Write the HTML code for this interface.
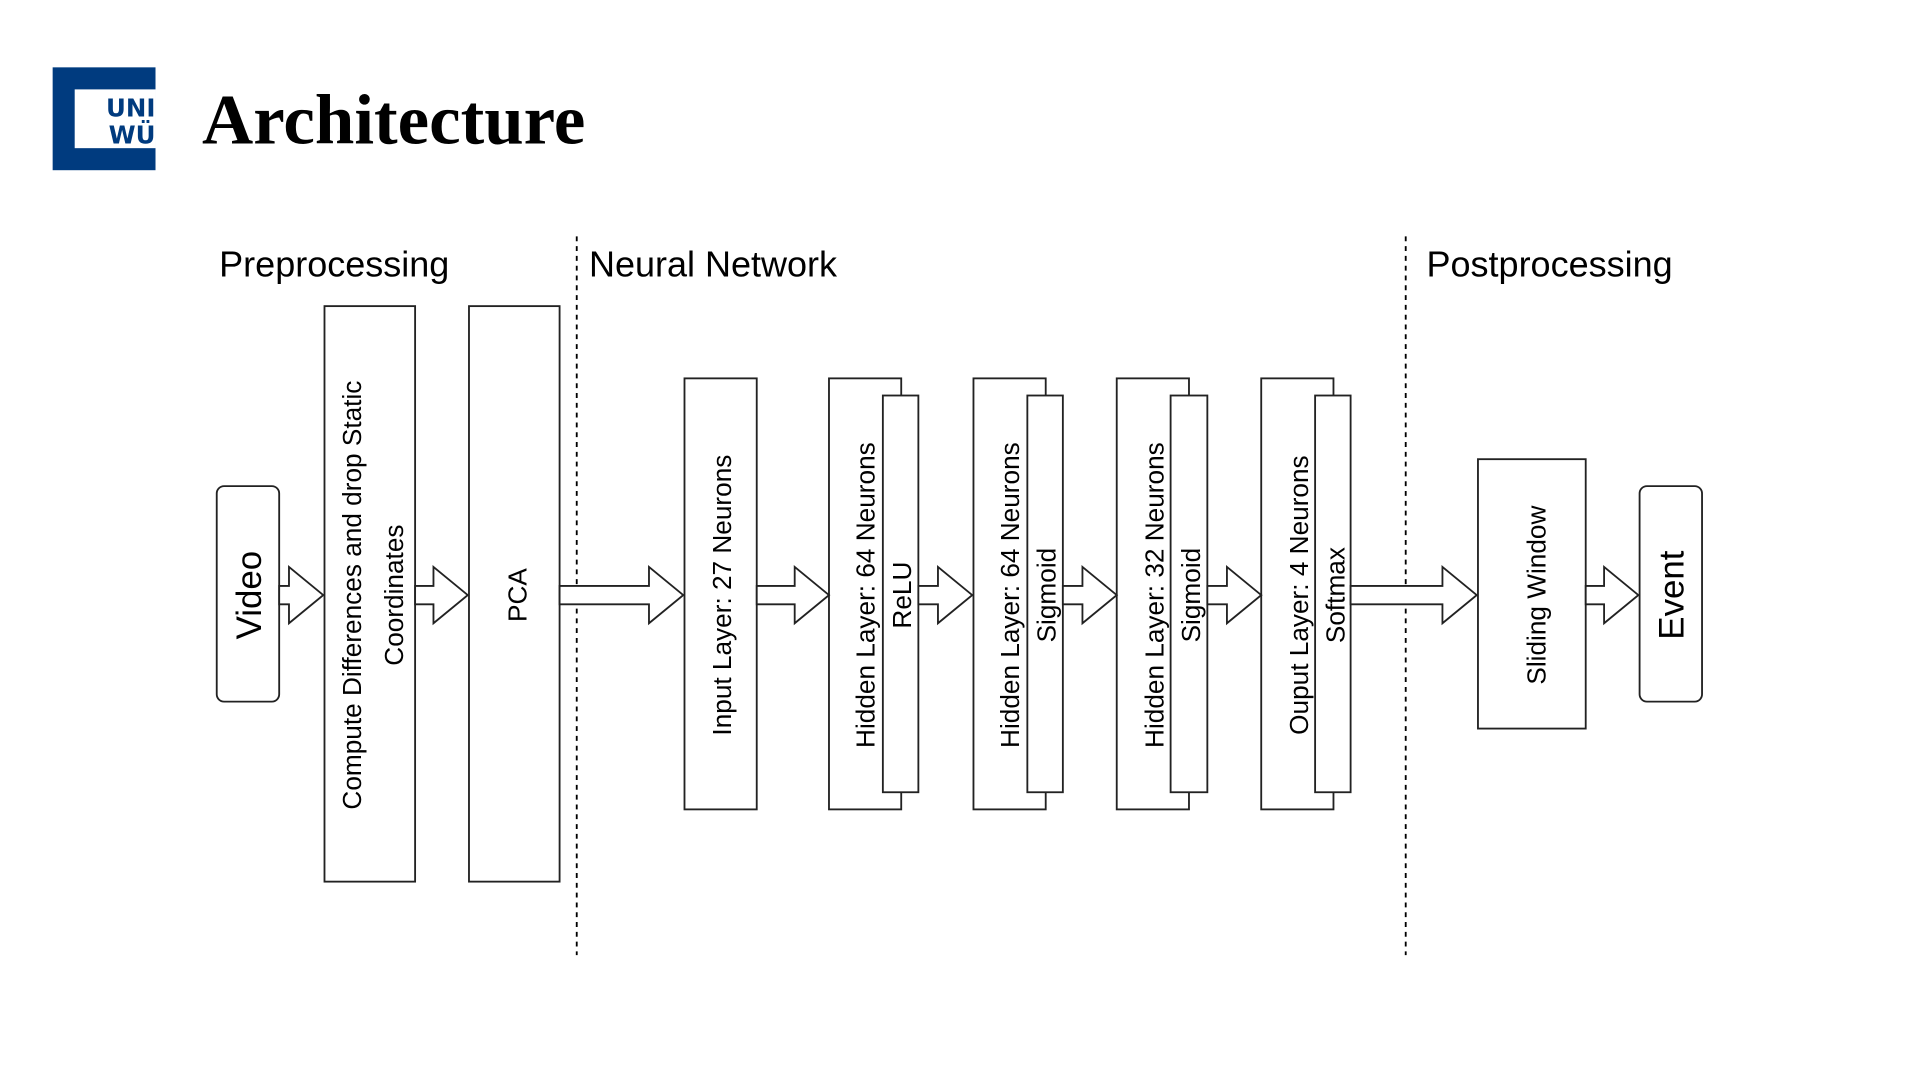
<!DOCTYPE html>
<html><head><meta charset="utf-8"><style>html,body{margin:0;padding:0;background:#fff;}svg{display:block}</style></head>
<body>
<svg width="1920" height="1080" viewBox="0 0 1568 882" xmlns="http://www.w3.org/2000/svg">
<rect x="0" y="0" width="1568" height="882" fill="#fff"/>
<!-- logo -->
<rect x="43" y="55" width="84" height="84" fill="#003b7f"/>
<rect x="61" y="73" width="66" height="48" fill="#fff"/>
<text x="127" y="95" text-anchor="end" font-family="DejaVu Sans, Liberation Sans, sans-serif" font-weight="bold" font-size="20" fill="#003b7f">UNI</text>
<text x="127" y="117" text-anchor="end" font-family="DejaVu Sans, Liberation Sans, sans-serif" font-weight="bold" font-size="20" fill="#003b7f">WÜ</text>
<text x="165" y="117" font-family="Liberation Serif, serif" font-weight="bold" font-size="58" textLength="313" lengthAdjust="spacingAndGlyphs" fill="#000">Architecture</text>
<g font-family="Liberation Sans, Arial, sans-serif" fill="#000">
<text x="179" y="226" font-size="29.4">Preprocessing</text>
<text x="481" y="226" font-size="29.4">Neural Network</text>
<text x="1165" y="226" font-size="29.4">Postprocessing</text>
</g>
<g stroke="#000" stroke-width="1.5" stroke-dasharray="4,4">
<line x1="471" y1="193" x2="471" y2="780"/>
<line x1="1148" y1="193" x2="1148" y2="780"/>
</g>
<g fill="#fff" stroke="#222" stroke-width="1.5">
<rect x="177" y="397" width="51" height="176" rx="6"/>
<rect x="265" y="250" width="74" height="470"/>
<rect x="383" y="250" width="74" height="470"/>
<rect x="559" y="309" width="59" height="352"/>
<rect x="677" y="309" width="59" height="352"/><rect x="721" y="323" width="29" height="324"/>
<rect x="795" y="309" width="59" height="352"/><rect x="839" y="323" width="29" height="324"/>
<rect x="912" y="309" width="59" height="352"/><rect x="956" y="323" width="30" height="324"/>
<rect x="1030" y="309" width="59" height="352"/><rect x="1074" y="323" width="29" height="324"/>
<rect x="1207" y="375" width="88" height="220"/>
<rect x="1339" y="397" width="51" height="176" rx="6"/>
<!-- arrows -->
<path d="M228 478.5 H236 V463 L264 486 L236 509 V493.5 H228 Z"/>
<path d="M339 478.5 H354 V463 L382 486 L354 509 V493.5 H339 Z"/>
<path d="M457 478.5 H530 V463 L558 486 L530 509 V493.5 H457 Z"/>
<path d="M618 478.5 H649 V463 L677 486 L649 509 V493.5 H618 Z"/>
<path d="M750 478.5 H766 V463 L794 486 L766 509 V493.5 H750 Z"/>
<path d="M868 478.5 H884 V463 L912 486 L884 509 V493.5 H868 Z"/>
<path d="M986 478.5 H1002 V463 L1030 486 L1002 509 V493.5 H986 Z"/>
<path d="M1103 478.5 H1178 V463 L1206 486 L1178 509 V493.5 H1103 Z"/>
<path d="M1295 478.5 H1310 V463 L1338 486 L1310 509 V493.5 H1295 Z"/>
</g>
<g font-family="Liberation Sans, Arial, sans-serif" fill="#000" text-anchor="middle">
<text transform="translate(213,486) rotate(-90)" font-size="28.5">Video</text>
<text transform="translate(295,486) rotate(-90)" font-size="21.4">Compute Differences and drop Static</text>
<text transform="translate(329,486) rotate(-90)" font-size="21.4">Coordinates</text>
<text transform="translate(430,486) rotate(-90)" font-size="21.4">PCA</text>
<text transform="translate(597,486) rotate(-90)" font-size="21.4">Input Layer: 27 Neurons</text>
<text transform="translate(714,486) rotate(-90)" font-size="21.4">Hidden Layer: 64 Neurons</text>
<text transform="translate(744,486) rotate(-90)" font-size="21.4">ReLU</text>
<text transform="translate(832,486) rotate(-90)" font-size="21.4">Hidden Layer: 64 Neurons</text>
<text transform="translate(862,486) rotate(-90)" font-size="21.4">Sigmoid</text>
<text transform="translate(950,486) rotate(-90)" font-size="21.4">Hidden Layer: 32 Neurons</text>
<text transform="translate(980,486) rotate(-90)" font-size="21.4">Sigmoid</text>
<text transform="translate(1068,486) rotate(-90)" font-size="21.4">Ouput Layer: 4 Neurons</text>
<text transform="translate(1098,486) rotate(-90)" font-size="21.4">Softmax</text>
<text transform="translate(1262,486) rotate(-90)" font-size="21.4">Sliding Window</text>
<text transform="translate(1375,486) rotate(-90)" font-size="28.5">Event</text>
</g>
</svg>
</body></html>
